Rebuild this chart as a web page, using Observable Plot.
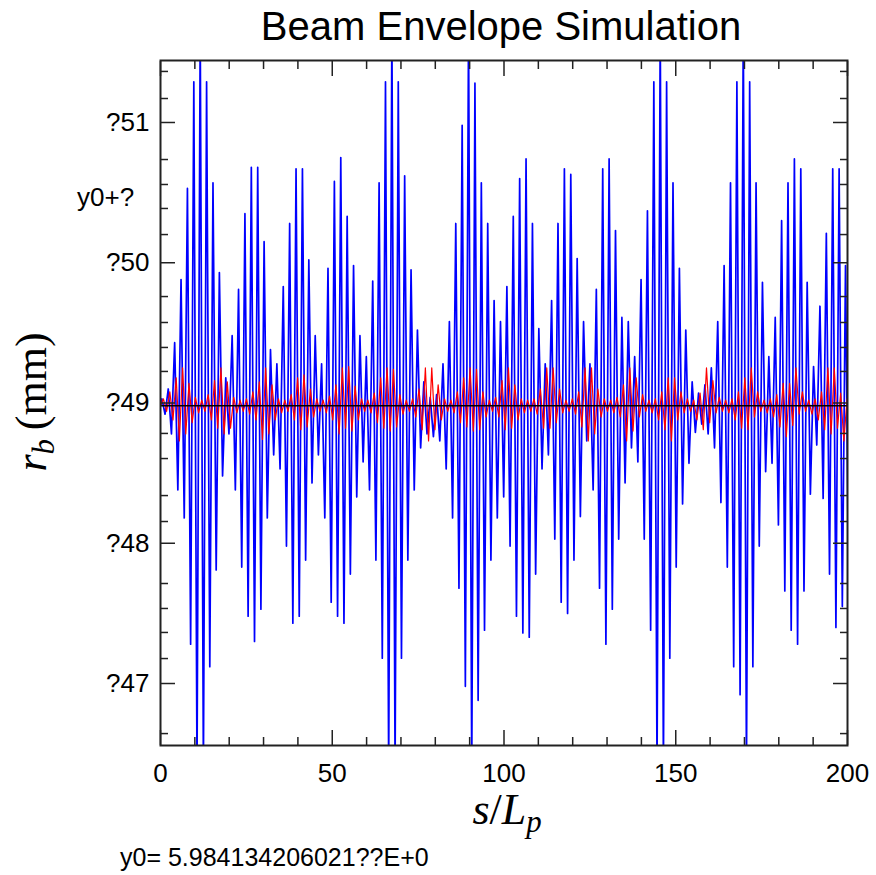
<!DOCTYPE html>
<html><head><meta charset="utf-8">
<script src="https://cdn.jsdelivr.net/npm/d3@7"></script>
<script src="https://cdn.jsdelivr.net/npm/@observablehq/plot@0.6"></script>
<style>
body{margin:0;background:#fff;}
#wrap{position:relative;width:876px;height:875px;overflow:hidden;}
.ov{position:absolute;white-space:nowrap;color:#000;line-height:1;}
.sans{font-family:"Liberation Sans",Arial,sans-serif;}
.serif{font-family:"Liberation Serif","DejaVu Serif",serif;}
</style></head><body>
<div id="wrap"></div>
<script>
// ---- tick values / labels ----
const xMajorTicks = [0, 50, 100, 150, 200];
const xMinorTicks = [10, 20, 30, 40, 60, 70, 80, 90, 110, 120, 130, 140, 160, 170, 180, 190];
const yMajorTicks = [47, 48, 49, 50, 51];
const yMajorLabels = ["?47", "?48", "?49", "?50", "?51"];
const yMinorTicks = [51.364, 51.171, 50.736, 50.558, 50.387, 50.201, 49.759, 49.574, 49.396, 49.225,
  48.783, 48.604, 48.340, 48.155, 47.713, 47.535, 47.364, 47.178, 46.643];

// ---- series ----
const baseline = 48.98;          // black reference line
const blueStart = 0.4;           // s/Lp of first upper extreme
const redStart = 0.85;
const halfStep = 0.93;           // s/Lp between successive extremes
// upper / lower excursions of the blue envelope from the baseline, one per oscillation
const blueUp = [0.05,0.12,0.45,0.9,1.55,2.31,2.7,2.31,1.59,0.95,0.2,0.5,0.83,1.37,1.7,1.7,1.17,0.4,0.3,0.85,
  1.3,1.69,1.69,1.04,0.5,0.3,0.98,1.6,1.77,1.35,1.0,0.5,0.35,0.89,1.59,2.31,2.7,2.31,1.64,0.97,
  0.54,0.17,0.06,0.08,0.3,0.6,1.3,2.0,2.7,2.3,1.59,1.3,0.75,0.6,0.85,1.35,1.62,1.76,1.3,0.55,
  0.3,0.75,1.3,1.69,1.65,1.05,0.6,0.3,0.83,1.69,1.76,1.25,0.63,0.6,0.35,0.9,1.39,2.31,2.7,2.31,
  1.59,0.98,0.54,0.17,0.09,0.15,0.27,0.6,1.0,1.59,2.31,2.7,2.31,1.59,0.88,0.35,0.63,1.32,1.59,1.76,
  1.69,0.88,0.28,0.71,1.23,1.69,1.69,1.0];
const blueDown = [0.06,0.2,0.6,0.8,1.7,2.6,2.6,1.86,1.17,0.5,0.2,0.6,1.15,1.5,1.68,1.45,0.8,0.35,0.45,1.0,
  1.55,1.5,1.1,0.55,0.35,0.8,1.4,1.5,1.55,1.2,0.65,0.4,0.6,1.1,1.8,2.6,2.6,1.8,1.1,0.6,
  0.3,0.2,0.22,0.25,0.45,0.8,1.3,2.0,2.6,2.1,1.6,1.1,0.8,0.65,1.0,1.5,1.62,1.65,1.2,0.45,
  0.35,0.95,1.4,1.48,1.1,0.79,0.25,0.6,1.3,1.7,1.45,0.95,0.55,0.3,0.4,0.95,1.6,2.6,2.6,1.8,
  1.15,0.7,0.41,0.19,0.13,0.2,0.3,0.69,1.15,1.86,2.06,2.6,1.86,1.0,0.47,0.41,0.85,1.32,1.6,1.7,
  1.32,0.63,0.28,0.66,1.2,1.58,1.43,1.4];
const redUp = [0.05,0.1,0.2,0.27,0.16,0.06,0.04,0.08,0.18,0.27,0.17,0.06,0.04,0.05,0.1,0.17,0.27,0.15,0.05,0.04,
  0.08,0.2,0.22,0.12,0.05,0.04,0.07,0.15,0.27,0.28,0.14,0.05,0.04,0.09,0.2,0.27,0.26,0.08,0.04,0.05,
  0.12,0.27,0.27,0.15,0.05,0.04,0.1,0.2,0.27,0.26,0.1,0.04,0.06,0.18,0.27,0.15,0.05,0.04,0.05,0.12,
  0.27,0.27,0.12,0.04,0.05,0.1,0.27,0.27,0.12,0.05,0.04,0.06,0.15,0.27,0.2,0.08,0.04,0.05,0.1,0.2,
  0.2,0.1,0.05,0.04,0.09,0.27,0.18,0.06,0.04,0.05,0.1,0.2,0.27,0.1,0.04,0.05,0.08,0.16,0.16,0.27,
  0.1,0.04,0.05,0.1,0.27,0.27,0.09,0.05];
const redDown = [0.04,0.1,0.25,0.2,0.12,0.05,0.04,0.1,0.16,0.2,0.16,0.05,0.04,0.06,0.1,0.24,0.2,0.1,0.05,0.04,
  0.1,0.17,0.15,0.08,0.04,0.05,0.1,0.2,0.16,0.18,0.1,0.04,0.05,0.12,0.16,0.18,0.15,0.06,0.04,0.08,
  0.17,0.25,0.17,0.1,0.04,0.05,0.12,0.15,0.18,0.17,0.08,0.04,0.08,0.17,0.16,0.1,0.05,0.04,0.06,0.16,
  0.16,0.12,0.05,0.04,0.06,0.15,0.25,0.2,0.08,0.04,0.05,0.08,0.25,0.18,0.08,0.04,0.05,0.1,0.17,0.25,
  0.1,0.05,0.04,0.1,0.17,0.12,0.05,0.04,0.05,0.1,0.16,0.17,0.08,0.04,0.05,0.08,0.15,0.22,0.14,0.06,
  0.04,0.06,0.1,0.17,0.2,0.16,0.25,0.1];

function buildSeries(start, up, down) {
  const n = Math.min(up.length, down.length);
  const pts = [{s: 0, v: baseline}];
  for (let k = 0; k < n; k++) {
    pts.push({s: start + 2 * k * halfStep, v: baseline + up[k]});
    pts.push({s: start + (2 * k + 1) * halfStep, v: baseline - down[k]});
  }
  return pts;
}
const blue = buildSeries(blueStart, blueUp, blueDown);
const red = buildSeries(redStart, redUp, redDown);

const axisStroke = "#222";
const chart = Plot.plot({
  width: 876, height: 875,
  marginLeft: 160, marginRight: 29, marginTop: 60, marginBottom: 130,
  x: {domain: [0, 200]},
  y: {domain: [46.558, 51.442]},
  style: {fontFamily: "'Liberation Sans', Arial, sans-serif", fontSize: "26px", color: "#000", background: "#fff", overflow: "visible"},
  marks: [
    Plot.line(blue, {x: "s", y: "v", stroke: "#0000ff", strokeWidth: 1.7, clip: true}),
    Plot.line(red, {x: "s", y: "v", stroke: "#ff0000", strokeWidth: 1.2, clip: true}),
    Plot.ruleY([baseline], {stroke: "#000", strokeWidth: 1.6}),
    // inward ticks on all four sides
    Plot.axisX({anchor: "bottom", ticks: xMajorTicks, tickSize: -15, fill: "none", label: null, stroke: axisStroke, strokeWidth: 1.5}),
    Plot.axisX({anchor: "bottom", ticks: xMinorTicks, tickSize: -8, fill: "none", label: null, stroke: axisStroke, strokeWidth: 1.5}),
    Plot.axisX({anchor: "top", ticks: xMajorTicks, tickSize: -15, fill: "none", label: null, stroke: axisStroke, strokeWidth: 1.5}),
    Plot.axisX({anchor: "top", ticks: xMinorTicks, tickSize: -8, fill: "none", label: null, stroke: axisStroke, strokeWidth: 1.5}),
    Plot.axisY({anchor: "left", ticks: yMajorTicks, tickSize: -15, fill: "none", label: null, stroke: axisStroke, strokeWidth: 1.5}),
    Plot.axisY({anchor: "left", ticks: yMinorTicks, tickSize: -8, fill: "none", label: null, stroke: axisStroke, strokeWidth: 1.5}),
    Plot.axisY({anchor: "right", ticks: yMajorTicks, tickSize: -15, fill: "none", label: null, stroke: axisStroke, strokeWidth: 1.5}),
    Plot.axisY({anchor: "right", ticks: yMinorTicks, tickSize: -8, fill: "none", label: null, stroke: axisStroke, strokeWidth: 1.5}),
    // tick labels
    Plot.axisX({anchor: "bottom", ticks: xMajorTicks, tickSize: 0, tickPadding: 18, label: null, tickFormat: d => String(d), fill: "#000"}),
    Plot.axisY({anchor: "left", ticks: yMajorTicks, tickSize: 0, tickPadding: 11, label: null,
      tickFormat: d => yMajorLabels[yMajorTicks.indexOf(d)], fill: "#000"}),
    Plot.frame({stroke: axisStroke, strokeWidth: 2})
  ]
});

const wrap = document.getElementById("wrap");
chart.style.position = "absolute";
chart.style.left = "0px";
chart.style.top = "0px";
wrap.appendChild(chart);

function overlay(html, cls, css) {
  const d = document.createElement("div");
  d.className = "ov " + cls;
  d.innerHTML = html;
  Object.assign(d.style, css);
  wrap.appendChild(d);
  return d;
}
overlay("Beam Envelope Simulation", "sans", {left: "501px", top: "6px", fontSize: "40px", transform: "translateX(-50%)"});
overlay("y0+?", "sans", {left: "77px", top: "184px", fontSize: "26px"});
overlay("<i>r</i><sub style='font-size:0.7em;vertical-align:-0.25em'><i>b</i></sub>&#8201;(mm)", "serif",
  {left: "35px", top: "402px", fontSize: "44px", transform: "translate(-50%,-50%) rotate(-90deg)"});
overlay("<i>s</i>/<i>L</i><sub style='font-size:0.7em;vertical-align:-0.25em'><i>p</i></sub>", "serif",
  {left: "507px", top: "813px", fontSize: "44px", transform: "translate(-50%,-50%)"});
overlay("y0= 5.984134206021??E+0", "sans", {left: "120px", top: "845px", fontSize: "25px"});
</script>
</body></html>
